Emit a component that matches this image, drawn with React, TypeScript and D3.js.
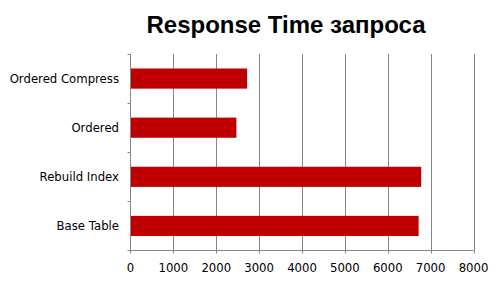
import React from "react";
import * as d3 from "d3";

const categories = ["Ordered Compress", "Ordered", "Rebuild Index", "Base Table"];
const values = [2720, 2470, 6780, 6720];
const xTicks = [0, 1000, 2000, 3000, 4000, 5000, 6000, 7000, 8000];
const title = "Response Time запроса";

export default function App() {
  const W = 503, H = 285;
  const left = 130.5, right = 473.5, top = 54, bottom = 250.5;
  const x = d3.scaleLinear().domain([0, 8000]).range([left, right]);
  const y = d3.scaleBand().domain(categories).range([top, bottom]).paddingInner(0.59).paddingOuter(0.295);
  const yb = d3.scaleBand().domain(categories).range([top, bottom]);
  const grid = "#868686";
  const font = "Tahoma, 'DejaVu Sans', Verdana, sans-serif";
  return (
    <svg width={W} height={H} style={{ position: "absolute", left: 0, top: 0, background: "#fff" }}>
      <text x={286} y={33} textAnchor="middle" fontFamily="'Liberation Sans', Arial, sans-serif" fontWeight="bold" fontSize={24} fill="#000">{title}</text>
      {xTicks.slice(1).map((t) => (
        <line key={t} x1={Math.round(x(t)) + 0.5} x2={Math.round(x(t)) + 0.5} y1={top} y2={bottom + 3} stroke={grid} strokeWidth={1} />
      ))}
      {categories.map((c, i) => (
        <rect key={c} x={x(0)} y={y(c)} width={x(values[i]) - x(0)} height={y.bandwidth()} fill="#C00000" />
      ))}
      <line x1={left} x2={left} y1={top} y2={bottom + 3} stroke={grid} strokeWidth={1} />
      <line x1={left - 3} x2={right} y1={bottom} y2={bottom} stroke={grid} strokeWidth={1} />
      {categories.map((c) => (
        <line key={c} x1={left - 3} x2={left} y1={Math.round(yb(c)!) + 0.5} y2={Math.round(yb(c)!) + 0.5} stroke={grid} strokeWidth={1} />
      ))}
      {categories.map((c) => (
        <text key={c} x={119} y={y(c)! + y.bandwidth() / 2} dy="0.35em" textAnchor="end" fontFamily={font} fontSize={11.7} fill="#000">{c}</text>
      ))}
      {xTicks.map((t) => (
        <text key={t} x={x(t)} y={268} dy="0.35em" textAnchor="middle" fontFamily={font} fontSize={11.7} fill="#000">{t}</text>
      ))}
    </svg>
  );
}
